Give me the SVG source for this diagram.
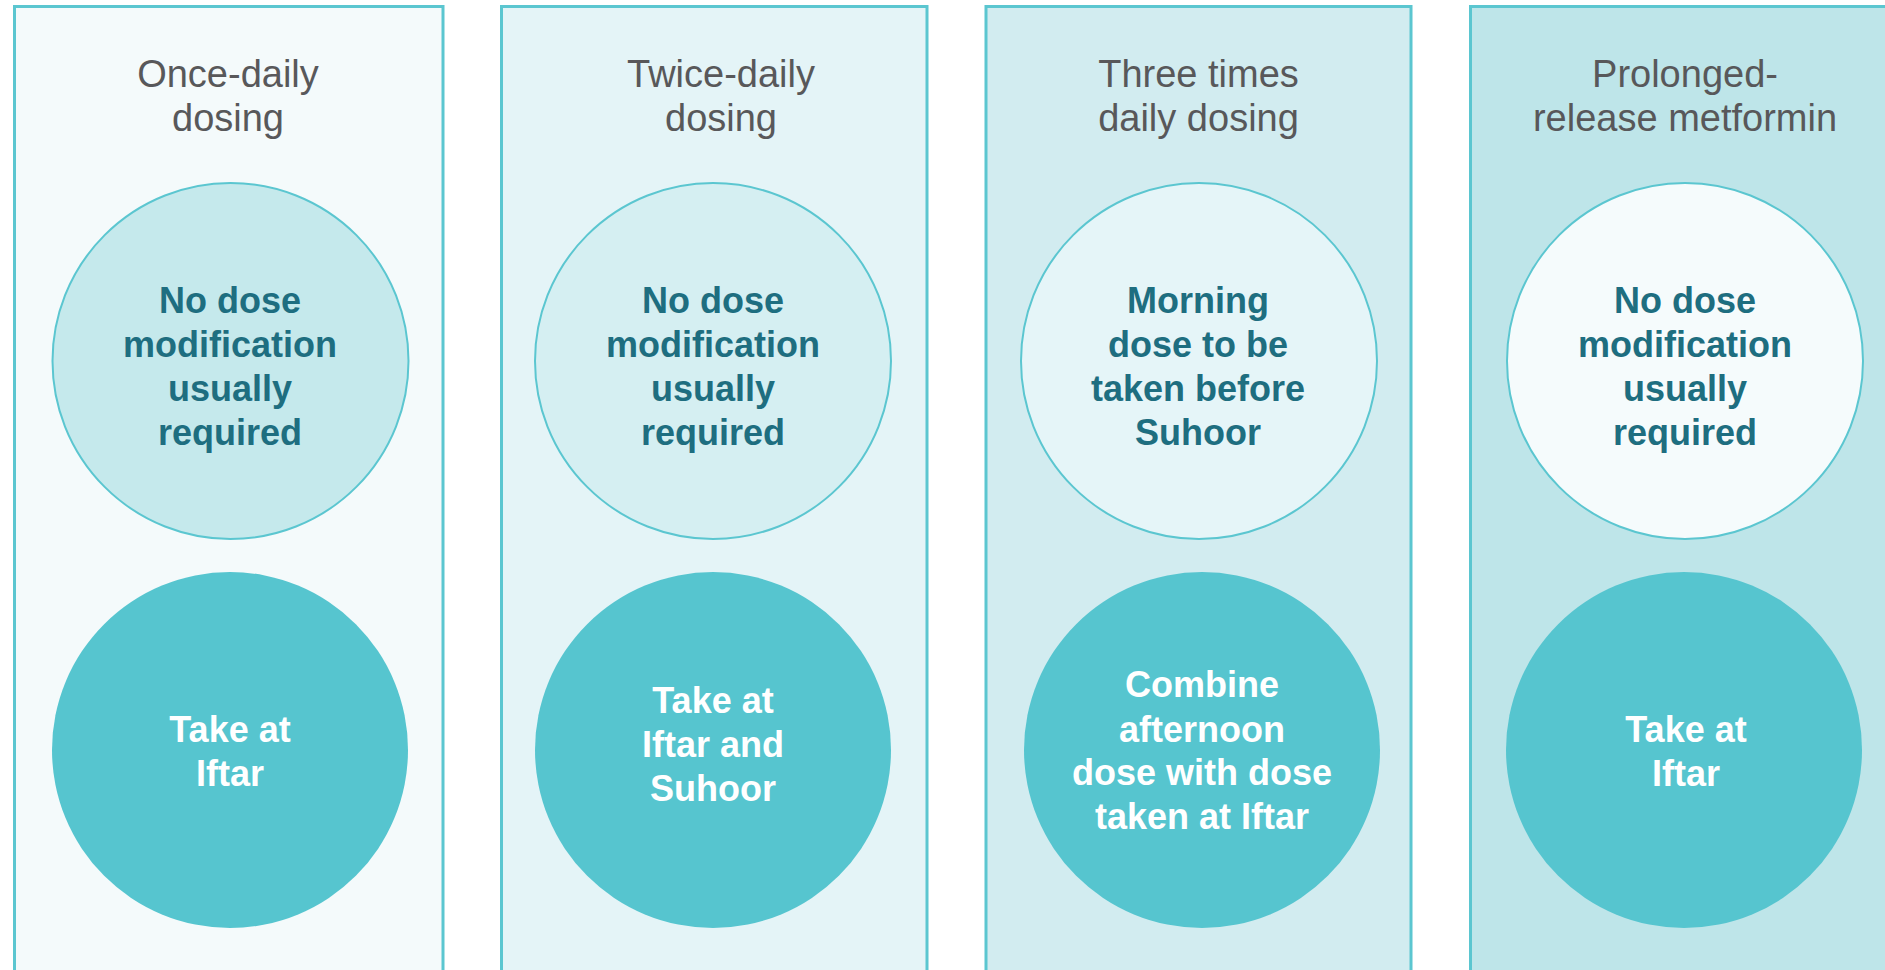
<svg xmlns="http://www.w3.org/2000/svg" width="1885" height="970" viewBox="0 0 1885 970">
  <style>
    .panel { stroke: #5BC6D0; stroke-width: 3; }
    .ring { stroke: #5BC6D0; stroke-width: 2; }
    .dot { fill: #56C5CF; }
    .title { font-family: "Liberation Sans", Arial, sans-serif; font-size: 38px; fill: #58585A; text-anchor: middle; }
    .note { font-family: "Liberation Sans", Arial, sans-serif; font-size: 36px; font-weight: bold; fill: #1E6E80; text-anchor: middle; }
    .act { font-family: "Liberation Sans", Arial, sans-serif; font-size: 36px; font-weight: bold; fill: #FFFFFF; text-anchor: middle; }
  </style>
  <rect x="0" y="0" width="1885" height="970" fill="#FFFFFF"/>

  <!-- Once-daily dosing -->
  <g id="once-daily">
    <rect class="panel" x="14.5" y="6.5" width="428.5" height="1000" fill="#F4FAFB"/>
    <text class="title" x="228" y="87">Once-daily</text>
    <text class="title" x="228" y="131">dosing</text>
    <circle class="ring" cx="230.5" cy="361" r="178" fill="#C5E9EC"/>
    <text class="note" x="230" y="313">No dose</text>
    <text class="note" x="230" y="357">modification</text>
    <text class="note" x="230" y="401">usually</text>
    <text class="note" x="230" y="445">required</text>
    <circle class="dot" cx="230" cy="750" r="178"/>
    <text class="act" x="230" y="742">Take at</text>
    <text class="act" x="230" y="786">Iftar</text>
  </g>

  <!-- Twice-daily dosing -->
  <g id="twice-daily">
    <rect class="panel" x="501.5" y="6.5" width="425.5" height="1000" fill="#E4F4F7"/>
    <text class="title" x="721" y="87">Twice-daily</text>
    <text class="title" x="721" y="131">dosing</text>
    <circle class="ring" cx="713" cy="361" r="178" fill="#D5EFF2"/>
    <text class="note" x="713" y="313">No dose</text>
    <text class="note" x="713" y="357">modification</text>
    <text class="note" x="713" y="401">usually</text>
    <text class="note" x="713" y="445">required</text>
    <circle class="dot" cx="713" cy="750" r="178"/>
    <text class="act" x="713" y="713">Take at</text>
    <text class="act" x="713" y="757">Iftar and</text>
    <text class="act" x="713" y="801">Suhoor</text>
  </g>

  <!-- Three times daily dosing -->
  <g id="three-times-daily">
    <rect class="panel" x="986" y="6.5" width="425" height="1000" fill="#D2ECF0"/>
    <text class="title" x="1198.5" y="87">Three times</text>
    <text class="title" x="1198.5" y="131">daily dosing</text>
    <circle class="ring" cx="1199" cy="361" r="178" fill="#E5F5F8"/>
    <text class="note" x="1198" y="313">Morning</text>
    <text class="note" x="1198" y="357">dose to be</text>
    <text class="note" x="1198" y="401">taken before</text>
    <text class="note" x="1198" y="445">Suhoor</text>
    <circle class="dot" cx="1202" cy="750" r="178"/>
    <text class="act" x="1202" y="697">Combine</text>
    <text class="act" x="1202" y="742">afternoon</text>
    <text class="act" x="1202" y="785">dose with dose</text>
    <text class="act" x="1202" y="829">taken at Iftar</text>
  </g>

  <!-- Prolonged-release metformin -->
  <g id="prolonged-release">
    <rect class="panel" x="1470.5" y="6.5" width="430" height="1000" fill="#BEE5E9"/>
    <text class="title" x="1685" y="87">Prolonged-</text>
    <text class="title" x="1685" y="131">release metformin</text>
    <circle class="ring" cx="1685" cy="361" r="178" fill="#F5FBFC"/>
    <text class="note" x="1685" y="313">No dose</text>
    <text class="note" x="1685" y="357">modification</text>
    <text class="note" x="1685" y="401">usually</text>
    <text class="note" x="1685" y="445">required</text>
    <circle class="dot" cx="1684" cy="750" r="178"/>
    <text class="act" x="1686" y="742">Take at</text>
    <text class="act" x="1686" y="786">Iftar</text>
  </g>
</svg>
